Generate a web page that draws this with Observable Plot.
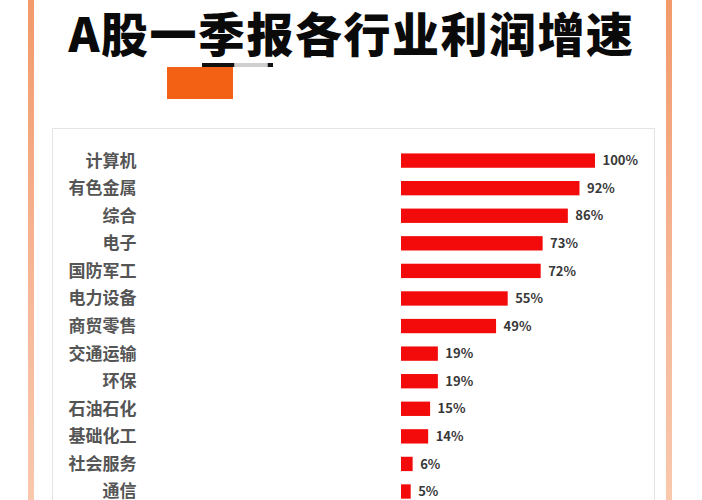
<!DOCTYPE html>
<html>
<head>
<meta charset="utf-8">
<script src="https://cdn.jsdelivr.net/npm/d3@7"></script>
<script src="https://cdn.jsdelivr.net/npm/@observablehq/plot@0.6"></script>
<style>
  html, body { margin: 0; padding: 0; background: #fff; width: 702px; height: 500px; overflow: hidden; }
  #page { position: relative; width: 702px; height: 500px; font-family: "Noto Sans CJK SC", sans-serif; }
  .stripe { position: absolute; top: 0; width: 6px; height: 500px;
    background: linear-gradient(to bottom, #f29a6a, #f7b899 60%, #f9c8ad); }
  #title { position: absolute; left: 50px; width: 602px; top: 6px; text-align: center; z-index: 2;
    font-family: "Noto Sans CJK SC", sans-serif; font-weight: 900; font-size: 47px;
    color: #0a0a0a; letter-spacing: 1.5px; line-height: 52px; text-indent: 1px; white-space: nowrap; }
  #blob { position: absolute; left: 167px; top: 67px; width: 66px; height: 32px; background: #f26114; }
  #strip { position: absolute; left: 202px; top: 63px; width: 71px; height: 4px; z-index: 1;
    background: linear-gradient(to right, #111 45%, #cfcfcf 46%, #cfcfcf 92%, #111 93%); }
  #panel { position: absolute; left: 52px; top: 128px; width: 603px; height: 372px;
    border: 1px solid #e4e4e4; border-bottom: none; box-sizing: border-box; }
  #chart { position: absolute; left: 52px; top: 129px; }
</style>
</head>
<body>
<div id="page">
  <div class="stripe" style="left:28px"></div>
  <div class="stripe" style="left:666px"></div>
  <div id="strip"></div>
  <div id="blob"></div>
  <div id="title">A股一季报各行业利润增速</div>
  <div id="panel"></div>
  <div id="chart"></div>
</div>
<script>
const industries = ["计算机","有色金属","综合","电子","国防军工","电力设备","商贸零售","交通运输","环保","石油石化","基础化工","社会服务","通信"];
const growth = [100, 92, 86, 73, 72, 55, 49, 19, 19, 15, 14, 6, 5];

const data = industries.map((name, i) => ({name, value: growth[i]}));

const chart = Plot.plot({
  width: 603,
  height: 371,
  marginTop: 17.8,
  marginBottom: -5.3,
  marginLeft: 349,
  marginRight: 60,
  style: {background: "transparent", fontFamily: "'Noto Sans CJK SC', sans-serif", overflow: "visible"},
  x: {domain: [0, 100], axis: null},
  y: {domain: industries, paddingInner: 0.48, paddingOuter: 0.24, round: false, label: null},
  marks: [
    Plot.barX(data, {y: "name", x: "value", fill: "#f30a0a"}),
    Plot.text(data, {y: "name", x: "value", text: d => d.value + "%", textAnchor: "start", dx: 7,
      fill: "#383838", fontSize: 13, fontWeight: "bold"}),
    Plot.axisY({tickSize: 0, tickPadding: 265, fontSize: 17, fontWeight: "bold", fill: "#555", label: null})
  ]
});
document.getElementById("chart").appendChild(chart);
</script>
</body>
</html>
